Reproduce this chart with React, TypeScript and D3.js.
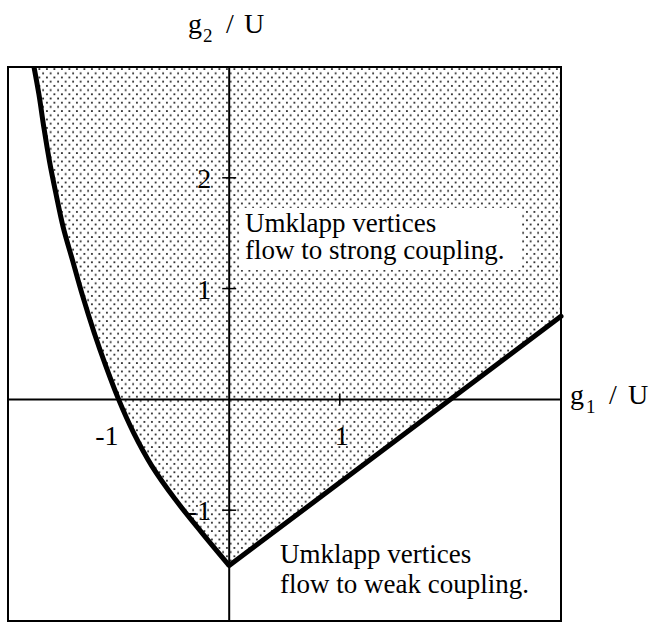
import * as d3 from "d3";

// boundary of the strong-coupling region (g1/U, g2/U)
const leftCurve: [number, number][] = [
  [-1.765, 3.0],
  [-1.72, 2.75],
  [-1.675, 2.45],
  [-1.625, 2.15],
  [-1.565, 1.85],
  [-1.5, 1.55],
  [-1.415, 1.25],
  [-1.33, 0.95],
  [-1.22, 0.6],
  [-1.115, 0.3],
  [-1.0, 0.0],
  [-0.865, -0.3],
  [-0.7, -0.6],
  [-0.49, -0.9],
  [-0.25, -1.2],
  [0.0, -1.5],
];
const rightLine: [number, number][] = [
  [0.0, -1.5],
  [3.0, 0.75],
];

const xTicks = [1];
const xTickLabels = [-1, 1];
const yTicks = [2, 1, -1];

const strongLabel = ["Umklapp vertices", "flow to strong coupling."];
const weakLabel = ["Umklapp vertices", "flow to weak coupling."];

const W = 654;
const H = 623;
const serif = (size: number) => ({ fontFamily: "Liberation Serif", fontSize: size });

export default function App() {
  const xs = d3.scaleLinear().domain([-2, 3]).range([8, 561]);
  const ys = d3.scaleLinear().domain([-2, 3]).range([621, 67]);

  const line = d3
    .line<[number, number]>()
    .x((d) => xs(d[0]))
    .y((d) => ys(d[1]))
    .curve(d3.curveCatmullRom);
  const straight = d3
    .line<[number, number]>()
    .x((d) => xs(d[0]))
    .y((d) => ys(d[1]));

  const curvePath = line(leftCurve) as string;
  const last = rightLine[rightLine.length - 1];
  // shaded region: above the curve and above the straight line
  const fillPath =
    curvePath + `L${xs(last[0])},${ys(last[1])}L${xs(3)},${ys(3)}Z`;

  const fmt = (t: number) => (t < 0 ? "-" + Math.abs(t) : String(t));

  return (
    <>
      <style>{`body{margin:0}`}</style>
      <svg width={W} height={H} style={{ display: "block" }}>
        <defs>
          <pattern id="dots" width={7.5} height={8.4} patternUnits="userSpaceOnUse">
            <rect x={1} y={1} width={1.8} height={1.8} fill="#2a2a2a" />
            <rect x={4.75} y={5.2} width={1.8} height={1.8} fill="#2a2a2a" />
          </pattern>
          <clipPath id="box">
            <rect x={xs(-2)} y={ys(3)} width={xs(3) - xs(-2)} height={ys(-2) - ys(3)} />
          </clipPath>
        </defs>

        <path d={fillPath} fill="url(#dots)" clipPath="url(#box)" />

        {/* white panel behind the upper label */}
        <rect x={240} y={208} width={282} height={62} fill="#fff" />

        {/* axes through the origin */}
        <line x1={xs(-2)} x2={xs(3)} y1={ys(0)} y2={ys(0)} stroke="#000" strokeWidth={2} />
        <line x1={xs(0)} x2={xs(0)} y1={ys(3)} y2={ys(-2)} stroke="#000" strokeWidth={2} />

        {yTicks.map((t) => (
          <g key={"y" + t}>
            <line x1={xs(0) - 7} x2={xs(0) + 7} y1={ys(t)} y2={ys(t)} stroke="#000" strokeWidth={1.5} />
            <text x={xs(0) - 18} y={ys(t) + 10} textAnchor="end" style={serif(28)}>
              {fmt(t)}
            </text>
          </g>
        ))}
        {xTicks.map((t) => (
          <line key={"x" + t} x1={xs(t)} x2={xs(t)} y1={ys(0) - 6} y2={ys(0) + 6} stroke="#000" strokeWidth={1.5} />
        ))}
        {xTickLabels.map((t) => (
          <text
            key={"xl" + t}
            x={t < 0 ? xs(t) : xs(t) + 2}
            y={ys(0) + 46}
            textAnchor={t < 0 ? "end" : "middle"}
            style={serif(28)}
          >
            {fmt(t)}
          </text>
        ))}

        <path d={curvePath} fill="none" stroke="#000" strokeWidth={5} strokeLinejoin="round" />
        <path d={straight(rightLine) as string} fill="none" stroke="#000" strokeWidth={5} strokeLinecap="round" />

        {/* frame */}
        <rect
          x={xs(-2)}
          y={ys(3)}
          width={xs(3) - xs(-2)}
          height={ys(-2) - ys(3)}
          fill="none"
          stroke="#000"
          strokeWidth={2}
        />

        {/* axis titles */}
        <text y={33} style={serif(28)}>
          <tspan x={188}>g</tspan>
          <tspan x={203} dy={9} style={serif(19)}>2</tspan>
          <tspan x={226} dy={-9}>/</tspan>
          <tspan x={244}>U</tspan>
        </text>
        <text y={404} style={serif(28)}>
          <tspan x={570}>g</tspan>
          <tspan x={586} dy={9} style={serif(19)}>1</tspan>
          <tspan x={609} dy={-9}>/</tspan>
          <tspan x={628}>U</tspan>
        </text>

        {strongLabel.map((s, i) => (
          <text key={"s" + i} x={245} y={232 + i * 27} style={serif(27)}>
            {s}
          </text>
        ))}
        {weakLabel.map((s, i) => (
          <text key={"w" + i} x={280} y={563 + i * 30} style={serif(27)}>
            {s}
          </text>
        ))}
      </svg>
    </>
  );
}
